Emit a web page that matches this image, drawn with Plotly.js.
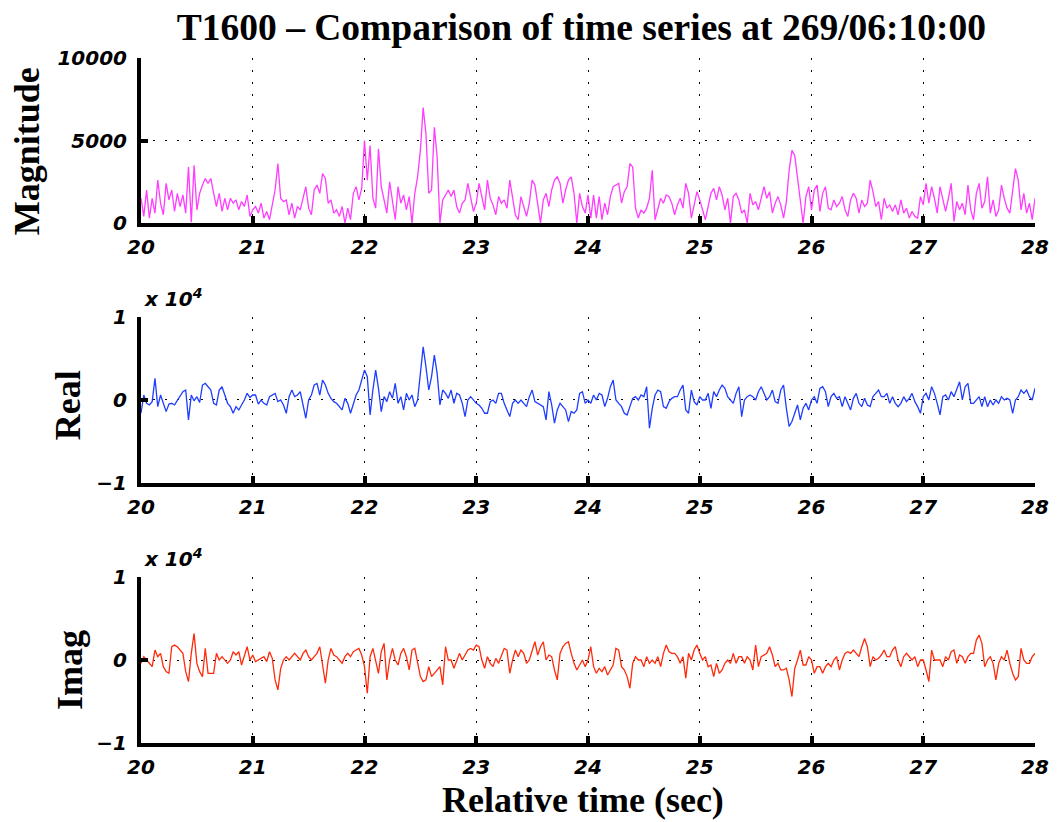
<!DOCTYPE html>
<html>
<head>
<meta charset="utf-8">
<script src="https://cdn.plot.ly/plotly-3.0.1.min.js"></script>
<style>html,body{margin:0;padding:0;background:#fff;}#chart{width:1059px;height:822px;}</style>
</head>
<body>
<div id="chart"></div>
<script>
// Sampling of the time axis (seconds): start and step
const tStart = 20, tStep = 0.025;

// Magnitude series (one row per second)
const magnitude = [
  1500,400,2000,300,1500,600,2600,1200,500,2400,1400,2000,700,1800,1000,1700,600,3400,50,3500,800,1800,2300,2700,2400,2700,1800,1000,1800,700,1500,800,1500,1200,1400,800,1300,1000,1700,400,
  800,1000,600,1200,300,700,200,1100,2000,3600,1500,1300,1400,500,1200,300,1000,800,1600,2200,900,500,2000,2300,1800,3000,2700,1200,1400,600,800,400,1000,0,900,200,1800,2200,1400,2100,
  5000,2600,4700,1500,900,4500,2200,1300,600,2500,1200,200,2200,1200,1700,800,1600,0,1800,2800,4400,7000,5400,1800,2000,5800,4000,0,1400,1700,2000,1600,2000,1000,600,1200,1400,2400,1600,700,
  1200,2400,1600,800,2600,1500,1100,500,1600,1200,1400,900,2600,1600,500,200,1600,1000,400,1200,2600,2300,1000,0,1400,1800,1000,2000,2600,2800,2400,1200,2000,2600,2800,1800,0,1800,1000,600,
  1700,300,1700,300,1600,200,1200,500,1600,2200,2300,2400,1200,1900,2200,3600,3400,900,300,800,600,900,1500,3200,200,900,1500,1200,1700,1600,1200,500,1100,1500,900,2400,1800,300,1200,1900,
  1400,800,200,1000,1800,2100,1400,2200,1700,800,1500,0,1600,1800,1400,600,800,0,1800,1100,1300,800,1500,2200,1500,1900,600,1200,1600,1100,300,1300,3200,4400,4100,2800,1200,0,1600,2200,
  800,2000,2300,700,1800,2200,900,800,1400,1000,1200,1600,800,400,1400,1800,1500,600,1400,1000,1200,2600,1900,1000,1300,200,1500,900,1100,700,1100,500,1400,600,900,300,700,400,300,1600,
  1100,2400,1200,2200,1500,600,2200,1400,700,1500,2400,100,1300,800,1200,500,2300,800,200,1800,2400,900,1300,2800,600,1400,400,800,2300,1500,900,600,1800,3300,2600,800,1800,600,1200,200,
  1500
];

// Real part (raw units; axis labelled in units of 10^4)
const realPart = [
  -1600,600,-400,-600,-200,2600,-800,600,-400,-1400,-500,-400,-600,-100,400,1000,1200,-2400,600,-100,400,-300,1800,2000,1600,1200,-400,-600,1200,1600,600,-400,-800,-1600,-800,-1200,-600,0,800,300,
  600,600,-500,0,-400,-600,400,600,800,-200,0,-600,-1600,400,1200,400,600,1000,-800,-2200,0,600,1800,2000,600,2400,1800,800,200,-200,-400,-800,-1200,200,-400,-1600,-400,600,1200,2400,
  3600,2800,-1800,1200,3600,1400,-1400,400,-200,1000,200,2000,-400,400,-1200,800,0,600,-800,0,3200,6400,4000,1200,2800,5400,3200,-600,1200,800,200,1200,-400,800,600,-400,-2000,0,400,0,
  -400,-600,-1000,-1600,-1600,-200,0,-400,800,800,-400,-1200,-2000,-400,0,-400,0,-400,-800,400,1200,-200,-400,-600,-800,-2400,1000,-600,-2800,-1200,-400,-800,-1200,-2600,-1400,-1600,-1200,800,1000,-400,
  0,-400,600,0,800,600,-800,200,1600,2400,0,-400,-800,-1600,-1800,-800,200,400,0,600,400,1600,-3400,-1000,600,1200,1000,-800,-1000,-200,200,400,400,1200,1800,-1200,-1600,1200,-200,-600,
  400,0,0,800,-1000,1000,400,1200,1800,1400,400,0,-400,800,1600,-2000,0,400,600,400,0,1000,1600,800,0,400,1200,-200,-400,1200,1800,-1000,-3200,-2600,-1600,-600,-2400,-1000,-400,-1200,
  0,400,-400,1400,1600,1000,-800,400,800,200,400,-800,400,-400,-1200,200,800,-400,-800,200,-600,-800,400,800,1200,400,400,800,-400,400,-400,-800,-400,400,-200,200,800,-200,-800,-1600,
  400,800,0,1600,800,-400,-1800,400,600,0,1000,400,1200,2200,0,1600,2000,-400,-400,0,400,-800,400,-800,0,-600,0,-400,400,0,200,0,-1600,0,400,1200,800,1200,400,0,
  1400
];

// Imaginary part (raw units; axis labelled in units of 10^4)
const imagPart = [
  -400,400,0,-400,-800,1200,400,800,-800,-1400,-1600,1600,1800,1600,1200,800,-1400,-2600,800,3200,-400,-1400,-2000,1400,-1600,-1600,-1600,800,0,400,0,-400,0,1000,600,1000,-600,600,1600,0,
  600,-200,0,200,400,-200,1000,200,-2400,-3600,-1000,0,400,0,400,800,400,0,800,1200,400,0,400,800,1600,-400,-2800,0,1400,600,400,0,-400,400,800,400,1000,1200,1400,600,
  -800,-4000,400,1400,0,-1600,1000,2000,-2400,0,1400,0,-600,800,1400,400,-1200,1200,1400,-400,-2000,-2600,-2400,-800,-2000,-1600,-1200,-800,-3000,1600,0,0,-1000,0,800,0,600,1200,1400,1200,
  1800,1600,0,-1000,400,-400,-800,200,-400,400,1400,1200,-1600,0,1200,400,1200,800,-400,0,1200,2200,600,1600,2200,0,600,400,-1200,-2400,800,1600,2000,2200,800,-400,-1200,-600,0,-800,
  0,1600,-800,-1600,-1000,-1400,-800,-1800,-1200,-600,1400,1200,-800,-1200,-2000,-3400,-400,400,0,0,-800,400,-400,0,-400,400,-800,800,1800,1000,800,800,400,-400,400,-2200,800,0,1200,1800,
  800,0,400,-800,-600,-2000,-400,-1600,-1200,-400,0,-400,800,-400,400,400,-400,400,0,-1200,1800,-800,400,600,800,1600,600,-800,-400,-1200,-1200,-1000,-2400,-4400,-1000,0,1200,-600,-600,400,
  0,-1600,-800,-800,-1600,-800,-400,-800,0,400,-1200,0,800,1000,800,1200,800,400,1600,2600,1600,-800,400,0,200,600,1200,400,400,1200,1600,0,-800,400,800,400,0,400,-800,0,
  0,-1200,-2600,1200,0,0,0,-800,400,0,1000,1200,-400,600,400,-400,400,800,800,2400,3000,2000,-800,0,400,-400,-2400,-400,400,0,1200,-400,-1600,-2400,-2000,1400,0,-400,-400,400,
  800
];

// Tick values / labels
const xTicks = [20, 21, 22, 23, 24, 25, 26, 27, 28];
const magTicks = [0, 5000, 10000];
const magTickText = ['0', '5000', '10000'];
const cplxTicks = [-10000, 0, 10000];
const cplxTickText = ['\u22121', '0', '1'];

const titleText = 'T1600 \u2013 Comparison of time series at 269/06:10:00';
const xTitle = 'Relative time (sec)';
const yTitles = ['Magnitude', 'Real', 'Imag'];

const time = magnitude.map((_, i) => +(tStart + i * tStep).toFixed(3));

const tickFont = {family: 'DejaVu Sans', size: 20, weight: 'bold', style: 'italic', color: '#000'};
const serifFont = {family: 'Liberation Serif', size: 36, weight: 'bold', color: '#000'};
const titleFont = {family: 'Liberation Serif', size: 37.5, weight: 'bold', color: '#000'};

function xAxis(anchor) {
  return {
    anchor: anchor, domain: [0, 1], range: [20, 28], tickvals: xTicks, ticktext: xTicks.map(String),
    showgrid: true, gridcolor: '#000', gridwidth: 1, griddash: '2px,10px',
    showline: true, linecolor: '#000', linewidth: 4, mirror: false,
    ticks: 'inside', ticklen: 7, tickwidth: 4, tickcolor: '#000',
    tickfont: tickFont, zeroline: false, ticklabelstandoff: 3
  };
}
function yAxis(anchor, domain, range, vals, text) {
  return {
    anchor: anchor, domain: domain, range: range, tickvals: vals, ticktext: text,
    showgrid: true, gridcolor: '#000', gridwidth: 1, griddash: '2px,10px',
    showline: true, linecolor: '#000', linewidth: 4, mirror: false,
    ticks: 'inside', ticklen: 7, tickwidth: 4, tickcolor: '#000',
    tickfont: tickFont, zeroline: false, ticklabelstandoff: 6
  };
}

const traces = [
  {x: time, y: magnitude, type: 'scatter', mode: 'lines', line: {color: '#ff3cff', width: 1.3}, xaxis: 'x', yaxis: 'y', name: 'Magnitude'},
  {x: time, y: realPart, type: 'scatter', mode: 'lines', line: {color: '#1f3dff', width: 1.3}, xaxis: 'x2', yaxis: 'y2', name: 'Real'},
  {x: time, y: imagPart, type: 'scatter', mode: 'lines', line: {color: '#ff2a0a', width: 1.3}, xaxis: 'x3', yaxis: 'y3', name: 'Imag'}
];

const layout = {
  width: 1059, height: 822,
  margin: {l: 141, r: 24, t: 58, b: 79},
  paper_bgcolor: '#fff', plot_bgcolor: '#fff',
  showlegend: false,
  title: {text: titleText, font: titleFont, xref: 'container', x: 0.549, yref: 'container', y: 0.967, xanchor: 'center', yanchor: 'middle'},
  xaxis: xAxis('y'),
  xaxis2: xAxis('y2'),
  xaxis3: xAxis('y3'),
  yaxis: yAxis('x', [0.7591, 1], [0, 10000], magTicks, magTickText),
  yaxis2: yAxis('x2', [0.3796, 0.6219], [-10000, 10000], cplxTicks, cplxTickText),
  yaxis3: yAxis('x3', [0, 0.2423], [-10000, 10000], cplxTicks, cplxTickText),
  annotations: [
    {text: yTitles[0], xref: 'paper', yref: 'paper', x: -0.1275, y: 0.864, xanchor: 'center', yanchor: 'middle', textangle: -90, showarrow: false, font: serifFont},
    {text: yTitles[1], xref: 'paper', yref: 'paper', x: -0.0817, y: 0.493, xanchor: 'center', yanchor: 'middle', textangle: -90, showarrow: false, font: serifFont},
    {text: yTitles[2], xref: 'paper', yref: 'paper', x: -0.0794, y: 0.1066, xanchor: 'center', yanchor: 'middle', textangle: -90, showarrow: false, font: serifFont},
    {text: 'x 10<sup>4</sup>', xref: 'paper', yref: 'paper', x: 0.001, y: 0.65, xanchor: 'left', yanchor: 'middle', showarrow: false, font: tickFont},
    {text: 'x 10<sup>4</sup>', xref: 'paper', yref: 'paper', x: 0.001, y: 0.2706, xanchor: 'left', yanchor: 'middle', showarrow: false, font: tickFont},
    {text: xTitle, xref: 'paper', yref: 'paper', x: 0.494, y: -0.0832, xanchor: 'center', yanchor: 'middle', showarrow: false, font: serifFont}
  ]
};

Plotly.newPlot('chart', traces, layout, {displayModeBar: false, staticPlot: true});
</script>
</body>
</html>
